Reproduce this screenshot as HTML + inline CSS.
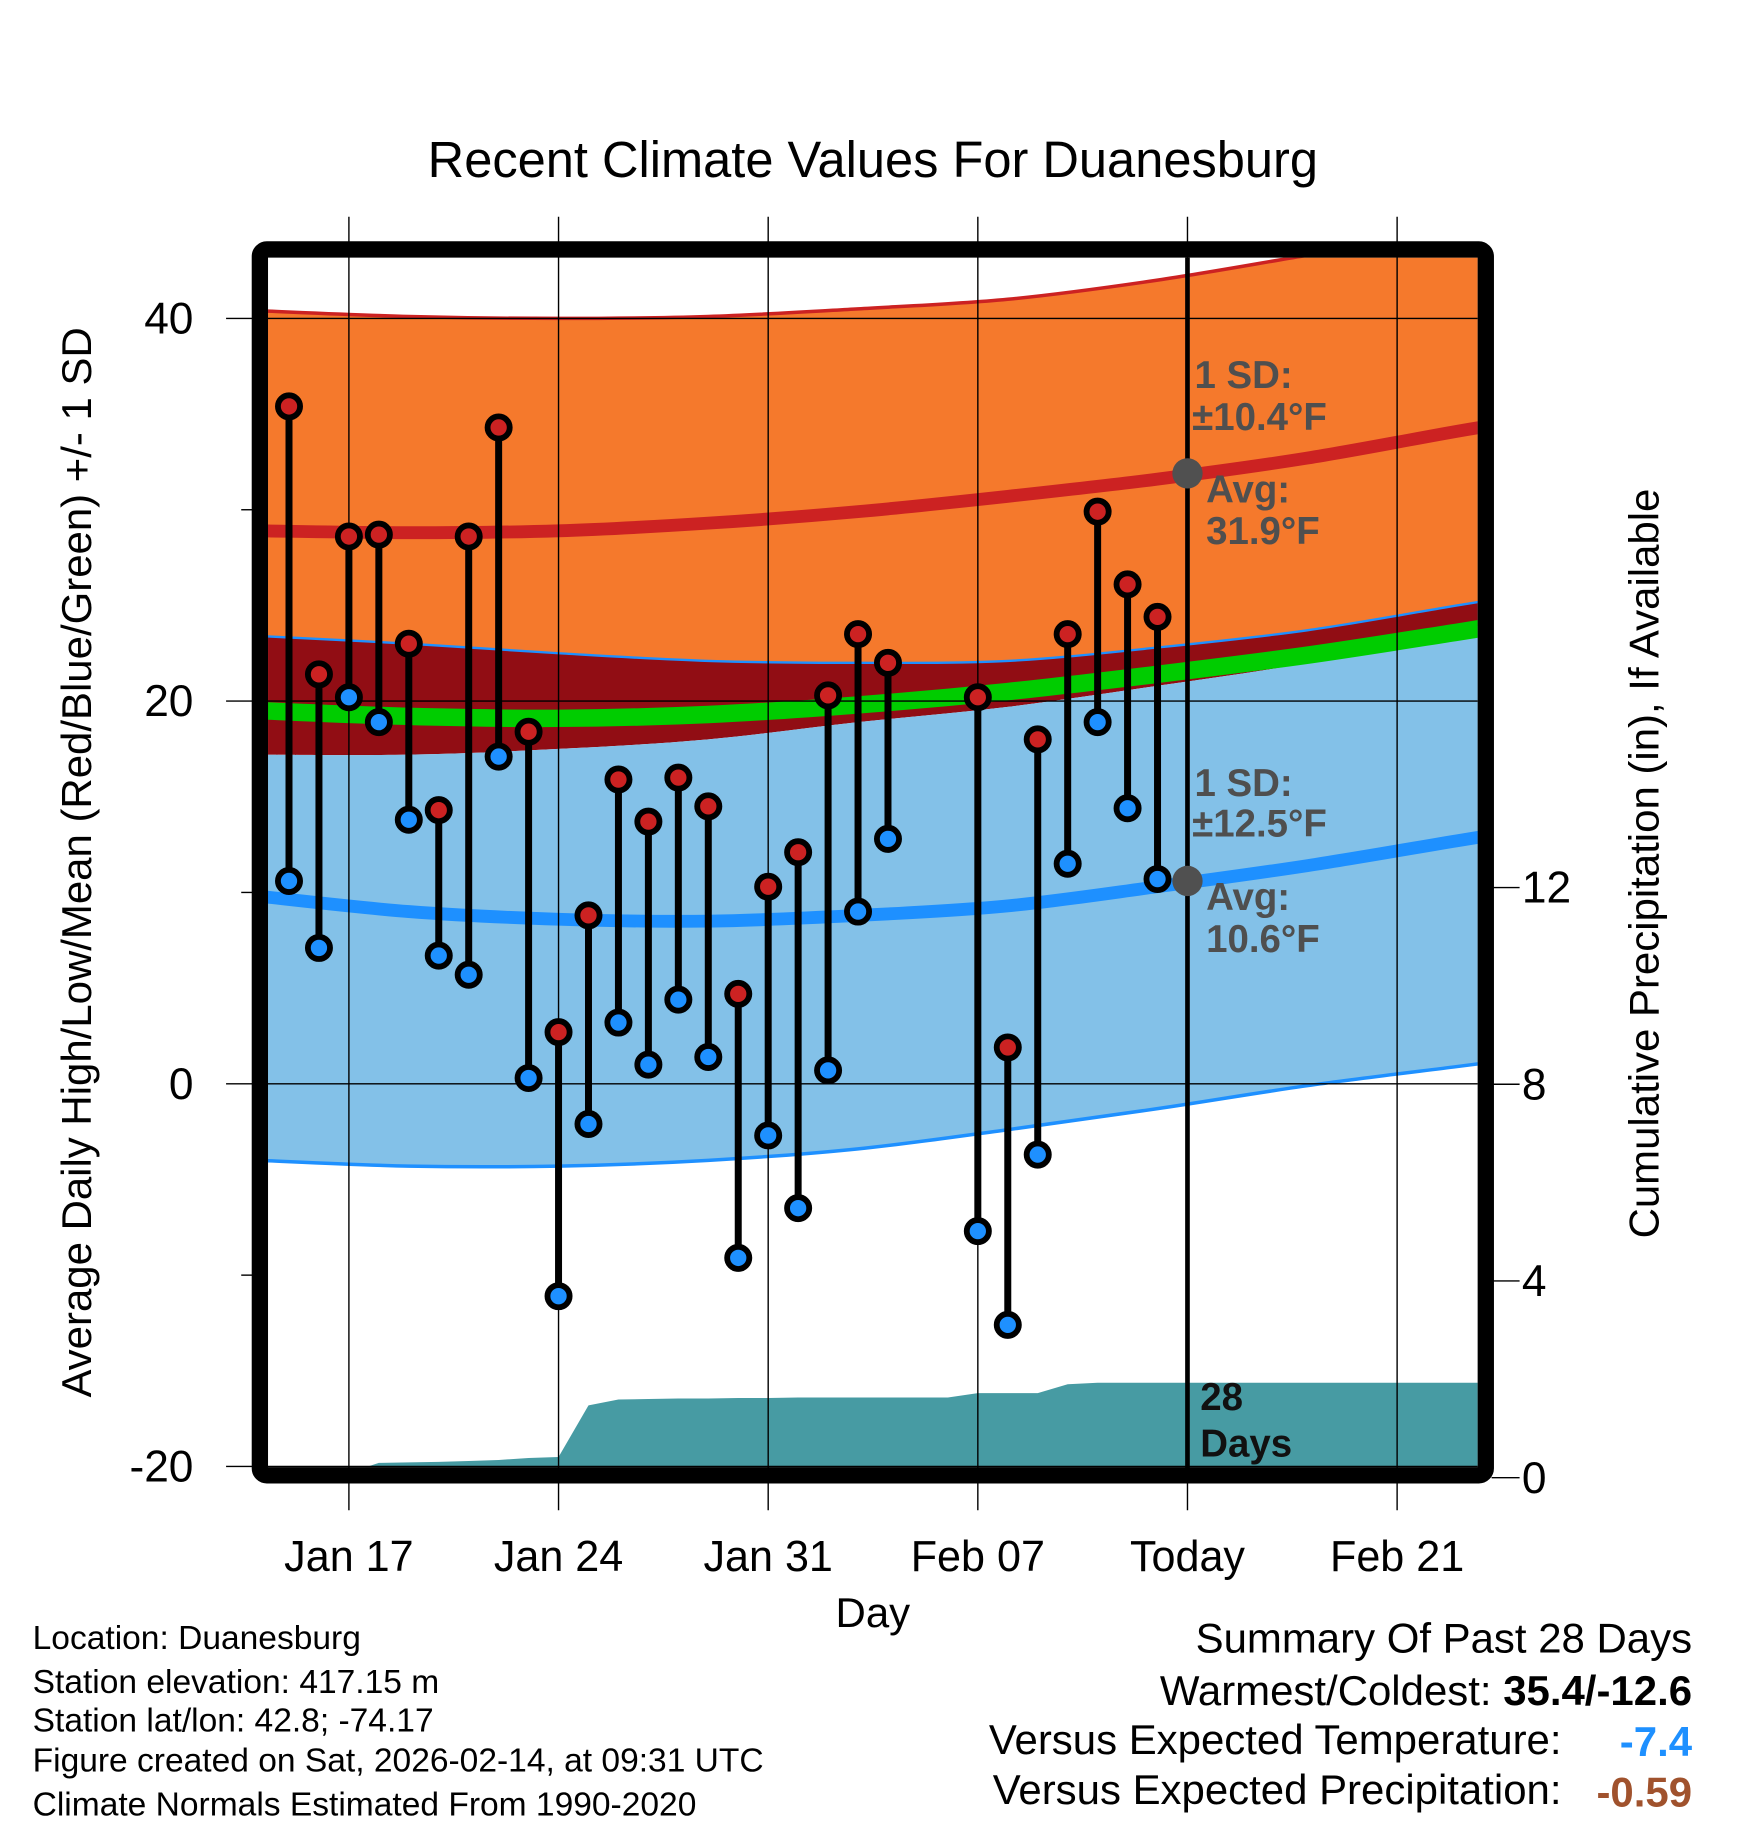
<!DOCTYPE html>
<html><head><meta charset="utf-8"><title>Recent Climate Values For Duanesburg</title>
<style>html,body{margin:0;padding:0;background:#fff}svg{display:block}text{font-family:"Liberation Sans",Arial,sans-serif}</style>
</head><body>
<svg id="chart" xmlns="http://www.w3.org/2000/svg" width="1748" height="1828" viewBox="0 0 1500 1568.6">
<defs><clipPath id="plotclip"><rect x="230" y="221" width="1038" height="1038"/></clipPath></defs>
<text x="749" y="152" font-size="43.5" text-anchor="middle" textLength="764" lengthAdjust="spacingAndGlyphs">Recent Climate Values For Duanesburg</text>
<g id="grid"></g>
<g id="plot" clip-path="url(#plotclip)"></g>
<g id="overlay"></g>
<rect x="223" y="214" width="1052" height="1052" rx="6" fill="none" stroke="#000" stroke-width="14"/>
<g id="axes"></g>
<text transform="translate(78,740) rotate(-90)" font-size="36" text-anchor="middle">Average Daily High/Low/Mean (Red/Blue/Green) +/- 1 SD</text>
<text transform="translate(1423,741) rotate(-90)" font-size="36" text-anchor="middle">Cumulative Precipitation (in), If Available</text>
<text x="749" y="1396" font-size="36" text-anchor="middle">Day</text>
<g font-size="28.8">
<text x="28" y="1415">Location: Duanesburg</text>
<text x="28" y="1453">Station elevation: 417.15 m</text>
<text x="28" y="1486">Station lat/lon: 42.8; -74.17</text>
<text x="28" y="1520">Figure created on Sat, 2026-02-14, at 09:31 UTC</text>
<text x="28" y="1558">Climate Normals Estimated From 1990-2020</text>
</g>
<g font-size="36">
<text x="1452" y="1418" text-anchor="end">Summary Of Past 28 Days</text>
<text x="1452" y="1463" text-anchor="end">Warmest/Coldest: <tspan font-weight="bold">35.4/-12.6</tspan></text>
<text x="1340" y="1505" text-anchor="end">Versus Expected Temperature:</text>
<text x="1452" y="1507" text-anchor="end" font-weight="bold" fill="#1e90ff">-7.4</text>
<text x="1340" y="1548" text-anchor="end">Versus Expected Precipitation:</text>
<text x="1452" y="1550" text-anchor="end" font-weight="bold" fill="#a0522d">-0.59</text>
</g>
</svg>
<script>
// ---- data ----
const highs = [35.4,21.4,28.6,28.7,23.0,14.3,28.6,34.3,18.4,2.7,8.8,15.9,13.7,16.0,14.5,4.7,10.3,12.1,20.3,23.5,22.0,null,null,20.2,1.9,18.0,23.5,29.9,26.1,24.4];
const lows  = [10.6,7.1,20.2,18.9,13.8,6.7,5.7,17.1,0.3,-11.1,-2.1,3.2,1.0,4.4,1.4,-9.1,-2.7,-6.5,0.7,9.0,12.8,null,null,-7.7,-12.6,-3.7,11.5,18.9,14.4,10.7];
const precipCum = [0,0,0.1,0.3,0.31,0.32,0.34,0.36,0.4,0.42,1.47,1.59,1.6,1.61,1.61,1.62,1.62,1.63,1.63,1.63,1.63,1.63,1.63,1.72,1.72,1.72,1.9,1.93,1.93,1.93,1.93];
const normDays  = [-1,4,9,14,19,24,29,34,39,41];
const normHigh  = [28.9,28.8,28.9,29.3,29.9,30.7,31.6,32.7,34.1,34.6];
const normHighUp= [40.4,40.1,40.0,40.1,40.5,41.0,42.0,43.3,44.6,45.3];
const normHighLo= [23.4,23.0,22.5,22.1,22.0,22.1,22.8,23.7,25.0,25.5];
const normLowUp = [17.2,17.2,17.5,18.0,18.9,19.7,20.8,22.0,23.7,24.3];
const normMean  = [19.5,19.2,19.1,19.3,19.8,20.5,21.4,22.4,23.6,24.1];
const normLow   = [9.8,9.0,8.6,8.5,8.8,9.3,10.3,11.4,12.7,13.2];
const normLowLo = [-4.0,-4.3,-4.3,-4.0,-3.4,-2.4,-1.3,-0.1,0.9,1.3];
const xTickDays = [2,9,16,23,30,37];
const xTickLabels = ["Jan 17","Jan 24","Jan 31","Feb 07","Today","Feb 21"];
const yTicks = [40,20,0,-20];
const yMinor = [30,10,-10];
const y2Ticks = [0,4,8,12];
const todayDay = 30;
const todayHigh = 31.9, todayLow = 10.6;

// ---- axes ----
const X = d => 248 + d*25.7;
const Y = t => 930 - t*16.42;
const Y2 = p => 1268 - p*42.2;
const NS = "http://www.w3.org/2000/svg";
function mk(tag, attrs, parent){const e=document.createElementNS(NS,tag);for(const k in attrs)e.setAttribute(k,attrs[k]);parent.appendChild(e);return e;}
function smooth(xs, ys){let d="M"+xs[0]+","+ys[0];for(let i=0;i<xs.length-1;i++){const x0=xs[Math.max(i-1,0)],y0=ys[Math.max(i-1,0)],x1=xs[i],y1=ys[i],x2=xs[i+1],y2=ys[i+1],x3=xs[Math.min(i+2,xs.length-1)],y3=ys[Math.min(i+2,xs.length-1)];d+=" C"+(x1+(x2-x0)/6)+","+(y1+(y2-y0)/6)+" "+(x2-(x3-x1)/6)+","+(y2-(y3-y1)/6)+" "+x2+","+y2;}return d;}
const nx = normDays.map(X);
function curve(arr){return smooth(nx, arr.map(Y));}
function band(up, lo){const xs=nx, a=smooth(xs, up.map(Y)); const rx=xs.slice().reverse(), ry=lo.map(Y).reverse(); const b=smooth(rx,ry); return a+" L"+rx[0]+","+ry[0]+b.slice(b.indexOf(" C"))+" Z";}

const plot=document.getElementById('plot'), grid=document.getElementById('grid'), overlay=document.getElementById('overlay'), axes=document.getElementById('axes');

let e;
e=mk('path',{d:band(normHighUp,normHighLo),fill:'#f5792c'},plot);


e=mk('path',{d:band(normHighLo,normLowUp),fill:'#910d14'},plot);


e=mk('path',{d:band(normLowUp,normLowLo),fill:'#83c1e8'},plot);


e=mk('path',{d:curve(normHighUp),fill:'none',stroke:'#cc2222','stroke-width':3},plot);


e=mk('path',{d:curve(normHighLo),fill:'none',stroke:'#1e90ff','stroke-width':2},plot);


e=mk('path',{d:curve(normLowLo),fill:'none',stroke:'#1e90ff','stroke-width':3},plot);


e=mk('path',{d:curve(normMean),fill:'none',stroke:'#00cc00','stroke-width':15},plot);


e=mk('path',{d:curve(normHigh),fill:'none',stroke:'#cc2222','stroke-width':11},plot);


e=mk('path',{d:curve(normLow),fill:'none',stroke:'#1e90ff','stroke-width':11},plot);



// precipitation area
let pd="M"+X(0)+","+Y2(0);
precipCum.forEach((p,i)=>{pd+=" L"+X(i)+","+Y2(p);});
pd+=" L1270,"+Y2(precipCum[precipCum.length-1])+" L1270,1270 L"+X(-1)+",1270 L"+X(-1)+","+Y2(0)+" Z";
e=mk('path',{d:pd,fill:'#479ba3'},plot);



// grid lines
xTickDays.forEach(d=>{
  e=mk('line',{x1:X(d),x2:X(d),y1:186,y2:1296,stroke:'#000','stroke-width':1.2},overlay);
  
  
});
yTicks.forEach(t=>{
  e=mk('line',{x1:194,x2:1268,y1:Y(t),y2:Y(t),stroke:'#000','stroke-width':1.2},overlay);
  
  
  e=mk('text',{x:166,y:Y(t)+13,'font-size':38,'text-anchor':'end'},axes);
  e.textContent=String(t);
  
  
});
yMinor.forEach(t=>{
  e=mk('line',{x1:207,x2:218,y1:Y(t),y2:Y(t),stroke:'#000','stroke-width':1.2},axes);
  
  
});
y2Ticks.forEach(p=>{
  e=mk('line',{x1:1280,x2:1304,y1:Y2(p),y2:Y2(p),stroke:'#000','stroke-width':1.2},axes);
  
  
  e=mk('text',{x:1306,y:Y2(p)+13,'font-size':38},axes);
  e.textContent=String(p);
  
  
});
xTickDays.forEach((d,i)=>{
  e=mk('text',{x:X(d),y:1348,'font-size':37,'text-anchor':'middle'},axes);
  e.textContent=xTickLabels[i];
  
  
});

// today line
e=mk('line',{x1:X(todayDay),x2:X(todayDay),y1:221,y2:1260,stroke:'#000','stroke-width':4},overlay);



// daily stems and points
highs.forEach((h,i)=>{
  const l=lows[i]; if(h==null||l==null) return;
  e=mk('line',{x1:X(i),x2:X(i),y1:Y(h),y2:Y(l),stroke:'#000','stroke-width':6},overlay);
  
  
});
highs.forEach((h,i)=>{
  const l=lows[i]; if(h==null||l==null) return;
  e=mk('circle',{cx:X(i),cy:Y(h),r:9.5,fill:'#cc2222',stroke:'#000','stroke-width':5},overlay);
  
  
  e=mk('circle',{cx:X(i),cy:Y(l),r:9.5,fill:'#1e90ff',stroke:'#000','stroke-width':5},overlay);
  
  
});

// today markers & annotations
e=mk('circle',{cx:X(todayDay),cy:Y(todayHigh),r:13,fill:'#505050'},overlay);


e=mk('circle',{cx:X(todayDay),cy:Y(todayLow),r:13,fill:'#505050'},overlay);


const ann=[["1 SD:",1025,333,"high-sd-label"],["\u00b110.4\u00b0F",1023,369,"high-sd-value"],["Avg:",1035,431,"high-avg-label"],["31.9\u00b0F",1035,467,"high-avg-value"],
["1 SD:",1025,683,"low-sd-label"],["\u00b112.5\u00b0F",1023,718,"low-sd-value"],["Avg:",1035,781,"low-avg-label"],["10.6\u00b0F",1035,817,"low-avg-value"]];
ann.forEach(a=>{
  e=mk('text',{x:a[1],y:a[2],'font-size':33,'font-weight':'bold',fill:'#4f4f4f'},overlay);
  e.textContent=a[0];
  
  
});
e=mk('text',{x:1030,y:1210,'font-size':33,'font-weight':'bold',fill:'#111'},overlay);
e.textContent="28";


e=mk('text',{x:1030,y:1250,'font-size':33,'font-weight':'bold',fill:'#111'},overlay);
e.textContent="Days";


</script>
</body></html>
